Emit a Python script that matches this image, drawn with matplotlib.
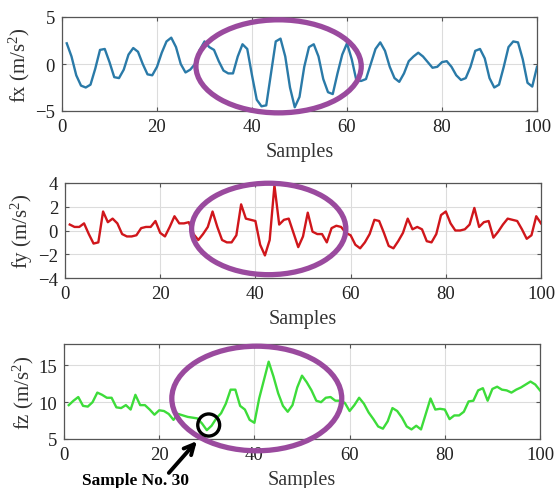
import matplotlib
matplotlib.use("Agg")
import matplotlib.pyplot as plt
from matplotlib.patches import Ellipse
import numpy as np

plt.rcParams['font.family'] = ['Liberation Serif', 'DejaVu Serif']
plt.rcParams['mathtext.fontset'] = 'custom'
plt.rcParams['mathtext.rm'] = 'Liberation Serif'
plt.rcParams['mathtext.it'] = 'Liberation Serif:italic'

samples = np.arange(1, 101)

fx = [2.2, 0.8, -1.2, -2.3, -2.5, -2.2, -0.5, 1.5, 1.6, 0.2,
      -1.4, -1.5, -0.6, 1.0, 1.7, 1.3, 0.0, -1.1, -1.2, -0.3,
      1.2, 2.4, 2.8, 1.8, 0.0, -0.9, -0.6, 0.0, 1.5, 2.4,
      1.8, 1.5, 0.3, -0.7, -1.0, -1.0, 0.8, 2.1, 1.6, -1.2,
      -3.8, -4.5, -4.4, -1.0, 2.4, 2.7, 0.8, -2.5, -4.6, -3.5,
      -0.3, 1.8, 2.1, 0.8, -1.6, -3.0, -3.2, -1.0, 1.0, 2.2,
      0.5, -1.8, -1.8, -1.6, 0.0, 1.6, 2.3, 1.4, -0.3, -1.5,
      -1.9, -1.0, 0.3, 0.8, 1.2, 0.8, 0.2, -0.4, -0.3, 0.2,
      0.3, -0.3, -1.2, -1.7, -1.5, -0.3, 1.4, 1.6, 0.6, -1.5,
      -2.5, -2.2, -0.3, 1.8, 2.4, 2.3, 0.5, -2.0, -2.4, -0.3]

fy = [0.5, 0.3, 0.3, 0.6, -0.3, -1.1, -1.0, 1.6, 0.7, 1.0,
      0.6, -0.3, -0.5, -0.5, -0.4, 0.2, 0.3, 0.3, 0.8, -0.2,
      -0.5, 0.3, 1.2, 0.6, 0.6, 0.7, -0.3, -0.8, -0.3, 0.3,
      1.6, 0.3, -0.8, -1.0, -1.0, -0.4, 2.2, 1.0, 0.9, 0.8,
      -1.2, -2.1, -0.8, 3.8, 0.5, 0.9, 1.0, -0.2, -1.4, -0.5,
      1.5, -0.1, -0.3, -0.3, -1.0, 0.2, 0.4, 0.3, -0.2, -0.4,
      -1.2, -1.5, -1.0, -0.3, 0.9, 0.8, -0.2, -1.3, -1.5, -0.9,
      -0.2, 1.0, 0.1, 0.3, 0.1, -0.9, -1.0, -0.3, 1.3, 1.6,
      0.6, 0.0, 0.0, 0.1, 0.5, 1.9, 0.3, 0.7, 0.8, -0.6,
      -0.1, 0.5, 1.0, 0.9, 0.8, 0.1, -0.7, -0.4, 1.2, 0.6]

fz = [9.6, 10.2, 10.7, 9.5, 9.4, 10.0, 11.3, 11.0, 10.6, 10.6,
      9.3, 9.2, 9.6, 9.0, 11.0, 9.6, 9.6, 9.0, 8.3, 8.9,
      8.8, 8.4, 7.6, 8.4, 8.2, 8.0, 7.9, 7.8, 7.1, 6.2,
      6.8, 7.8, 8.5, 9.8, 11.7, 11.7, 9.5, 9.0, 7.6, 7.2,
      10.5, 13.0, 15.5, 13.5, 11.2, 9.5, 8.7, 9.6, 12.0, 13.6,
      12.7, 11.6, 10.2, 10.0, 10.6, 10.7, 10.2, 10.2, 9.9, 8.8,
      9.6, 10.6, 9.8, 8.6, 7.7, 6.7, 6.4, 7.4, 9.2, 8.8,
      7.9, 6.7, 6.3, 6.8, 6.3, 8.4, 10.5, 9.0, 9.1, 9.0,
      7.7, 8.2, 8.2, 8.7, 10.1, 10.2, 11.6, 11.9, 10.2, 11.8,
      12.1, 11.7, 11.6, 11.3, 11.7, 12.0, 12.4, 12.8, 12.4, 11.6]

xticks = [0, 20, 40, 60, 80, 100]
fx_yticks = [-5, 0, 5]
fy_yticks = [-4, -2, 0, 2, 4]
fz_yticks = [5, 10, 15]

W, H = 556, 489
fig = plt.figure(figsize=(W / 100, H / 100), dpi=100)

def ax_at(l, r, t, b):
    return fig.add_axes([l / W, 1 - b / H, (r - l) / W, (b - t) / H])

ax1 = ax_at(62, 537, 18, 112)
ax2 = ax_at(65, 541, 184, 279)
ax3 = ax_at(64, 540, 345, 440)

purple = '#9A4A9E'
panels = [
    (ax1, fx, '#2a7aa8', (-5, 5), fx_yticks, 'fx (m/s$^2$)', (45.6, -0.25, 34.8, 9.9)),
    (ax2, fy, '#d0161b', (-4, 4), fy_yticks, 'fy (m/s$^2$)', (42.8, 0.13, 32.4, 7.7)),
    (ax3, fz, '#3ddc3a', (5, 17.9), fz_yticks, 'fz (m/s$^2$)', (40.5, 10.5, 35.7, 14.2)),
]

for ax, data, col, ylim, yt, ylab, ell in panels:
    ax.plot(samples, data, color=col, lw=1.7, zorder=3)
    ax.set_xlim(0, 100)
    ax.set_ylim(*ylim)
    ax.set_xticks(xticks)
    ax.set_yticks(yt)
    ax.grid(True, color='#dcdcdc', lw=0.8)
    ax.set_axisbelow(True)
    for s in ax.spines.values():
        s.set_color('#555555')
        s.set_linewidth(0.9)
    ax.tick_params(direction='in', length=3, labelsize=13.5, color='#555555',
                   labelcolor='#222222', pad=5, top=True, right=True)
    ax.set_xlabel('Samples', fontsize=14.5, color='#333333', labelpad=5)
    ax.set_ylabel(ylab, fontsize=15, color='#333333', labelpad=2)
    cx, cy, ew, eh = ell
    e = Ellipse((cx, cy), ew, eh, fill=False, edgecolor=purple, lw=3.8,
                clip_on=False, zorder=5)
    ax.add_patch(e)

# black circle around sample 30
c = Ellipse((30.4, 6.9), 4.6, 3.0, fill=False, edgecolor='black', lw=2.4,
            clip_on=False, zorder=6)
ax3.add_patch(c)

ax3.annotate('', xy=(28.3, 5.0), xycoords='data',
             xytext=(167, H - 476), textcoords='figure pixels',
             arrowprops=dict(arrowstyle='->', lw=2.8, color='black',
                             mutation_scale=18), annotation_clip=False)
fig.text(135 / W, 1 - 481 / H, 'Sample No. 30', fontsize=12.5,
         fontweight='bold', ha='center', va='center', color='black')

fig.savefig('out.png', dpi=100)
